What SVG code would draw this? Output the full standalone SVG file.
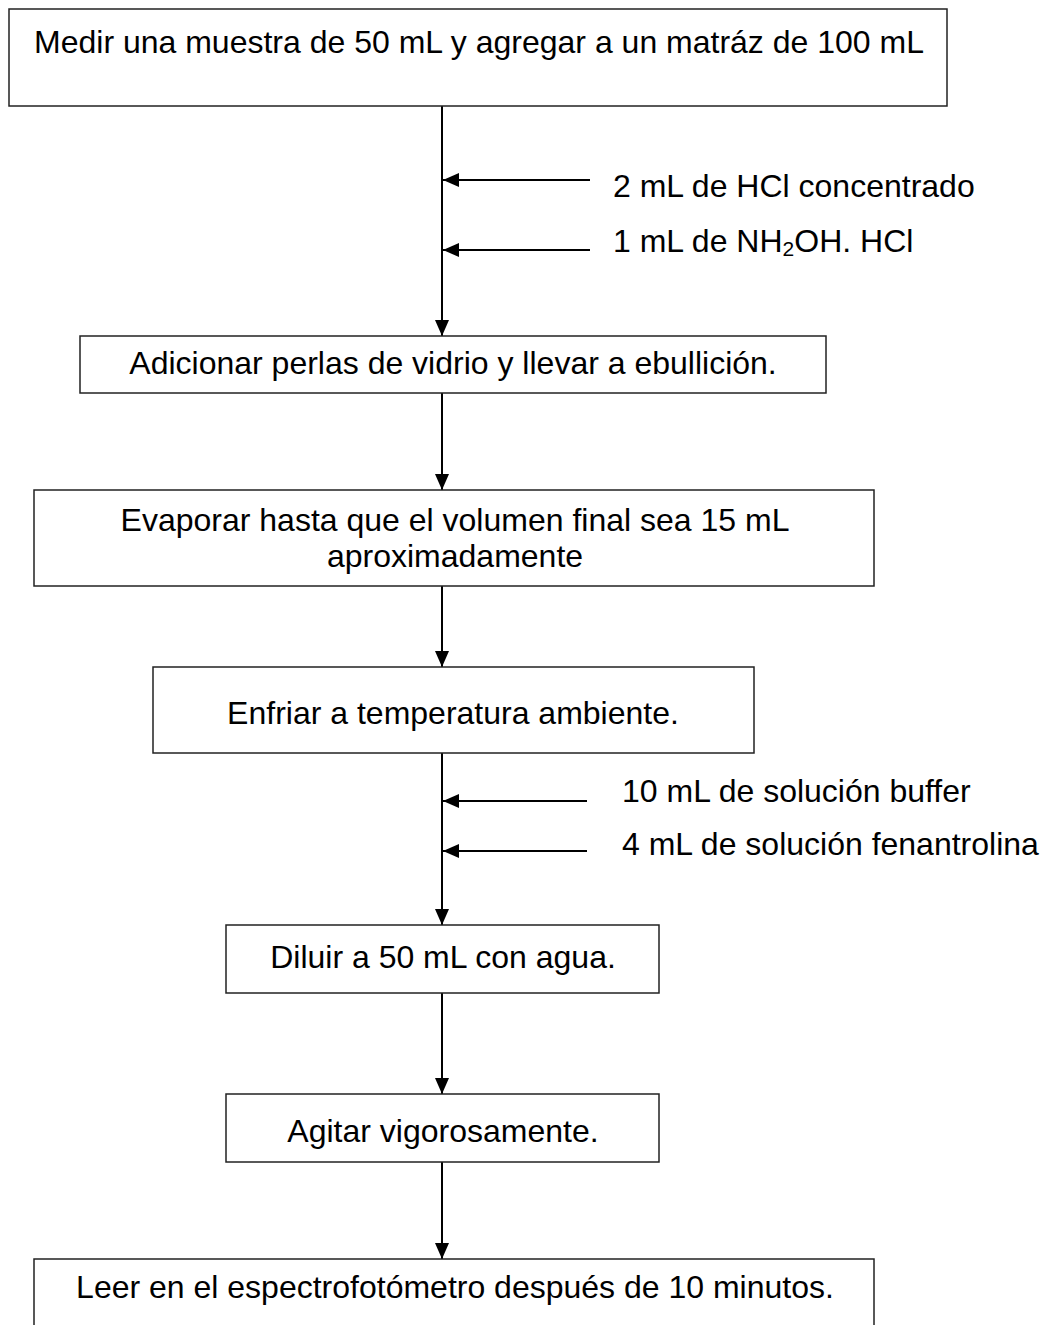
<svg xmlns="http://www.w3.org/2000/svg" width="1044" height="1325" viewBox="0 0 1044 1325">
<style>
.box{fill:#fff;stroke:#222;stroke-width:1.5}
.t{font-family:"Liberation Sans",Arial,sans-serif;font-size:32px;fill:#000}
.c{text-anchor:middle}
.ln{stroke:#000;stroke-width:2;fill:none}
</style>
<defs>
<marker id="ah" markerWidth="16" markerHeight="14" refX="16" refY="7" orient="auto" markerUnits="userSpaceOnUse">
<path d="M0,0 L16,7 L0,14 Z" fill="#000"/>
</marker>
</defs>
<rect width="1044" height="1325" fill="#fff"/>
<g id="connectors">
<line class="ln" x1="442" y1="106" x2="442" y2="336" marker-end="url(#ah)"/>
<line class="ln" x1="590" y1="180" x2="443" y2="180" marker-end="url(#ah)"/>
<line class="ln" x1="590" y1="250" x2="443" y2="250" marker-end="url(#ah)"/>
<line class="ln" x1="442" y1="393" x2="442" y2="490" marker-end="url(#ah)"/>
<line class="ln" x1="442" y1="586" x2="442" y2="667" marker-end="url(#ah)"/>
<line class="ln" x1="442" y1="753" x2="442" y2="925" marker-end="url(#ah)"/>
<line class="ln" x1="587" y1="801" x2="443" y2="801" marker-end="url(#ah)"/>
<line class="ln" x1="587" y1="851" x2="443" y2="851" marker-end="url(#ah)"/>
<line class="ln" x1="442" y1="993" x2="442" y2="1094" marker-end="url(#ah)"/>
<line class="ln" x1="442" y1="1162" x2="442" y2="1259" marker-end="url(#ah)"/>
</g>
<g id="labels">
<text class="t" x="613" y="197">2 mL de HCl concentrado</text>
<text class="t" x="613" y="252">1 mL de NH<tspan font-size="21" dy="4">2</tspan><tspan dy="-4">OH. HCl</tspan></text>
<text class="t" x="622" y="802">10 mL de solución buffer</text>
<text class="t" x="622" y="855">4 mL de solución fenantrolina</text>
</g>
<g id="n1">
<rect class="box" x="9" y="9" width="938" height="97"/>
<text class="t c" x="479" y="53">Medir una muestra de 50 mL y agregar a un matráz de 100 mL</text>
</g>
<g id="n2">
<rect class="box" x="80" y="336" width="746" height="57"/>
<text class="t c" x="453" y="374">Adicionar perlas de vidrio y llevar a ebullición.</text>
</g>
<g id="n3">
<rect class="box" x="34" y="490" width="840" height="96"/>
<text class="t c" x="455" y="531">Evaporar hasta que el volumen final sea 15 mL</text>
<text class="t c" x="455" y="567">aproximadamente</text>
</g>
<g id="n4">
<rect class="box" x="153" y="667" width="601" height="86"/>
<text class="t c" x="453" y="724">Enfriar a temperatura ambiente.</text>
</g>
<g id="n5">
<rect class="box" x="226" y="925" width="433" height="68"/>
<text class="t c" x="443" y="968">Diluir a 50 mL con agua.</text>
</g>
<g id="n6">
<rect class="box" x="226" y="1094" width="433" height="68"/>
<text class="t c" x="443" y="1142">Agitar vigorosamente.</text>
</g>
<g id="n7">
<rect class="box" x="34" y="1259" width="840" height="80"/>
<text class="t c" x="455" y="1298">Leer en el espectrofotómetro después de 10 minutos.</text>
</g>
</svg>
